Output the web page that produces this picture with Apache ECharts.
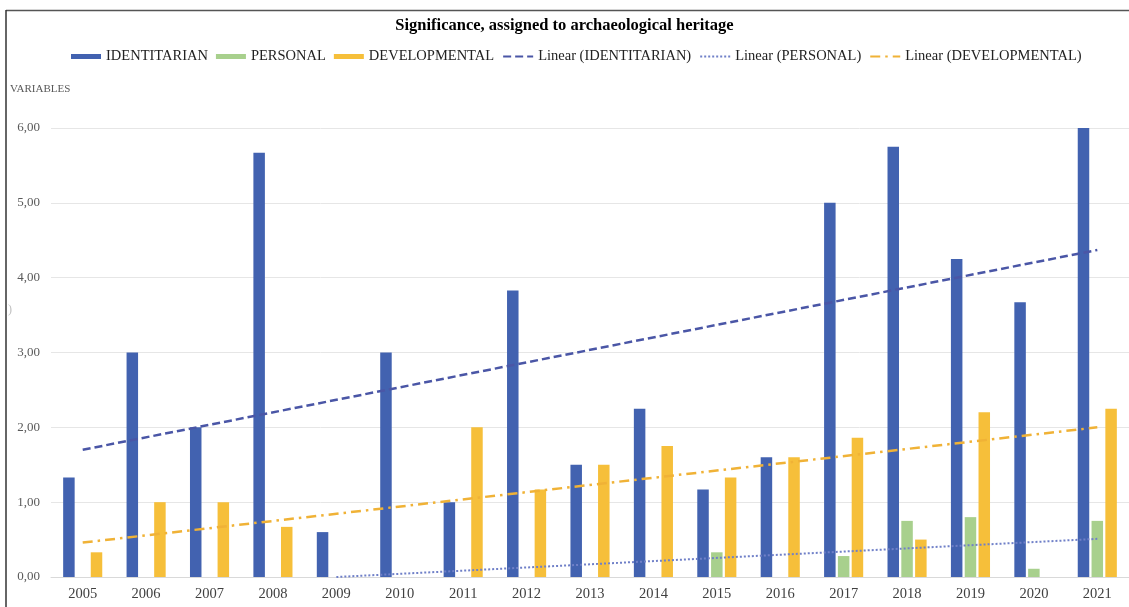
<!DOCTYPE html>
<html>
<head>
<meta charset="utf-8">
<script src="https://cdn.jsdelivr.net/npm/echarts@6/dist/echarts.min.js"></script>
<style>
  html, body { margin: 0; padding: 0; background: #fff; }
  #chart { width: 1129px; height: 607px; }
</style>
</head>
<body>
<div id="chart"></div>
<script>
// Survey years
const years = ['2005','2006','2007','2008','2009','2010','2011','2012','2013',
               '2014','2015','2016','2017','2018','2019','2020','2021'];

// Mean significance scores per category
const identitarian  = [1.33, 3.00, 2.00, 5.67, 0.60, 3.00, 1.00, 3.83, 1.50,
                       2.25, 1.17, 1.60, 5.00, 5.75, 4.25, 3.67, 6.00];
const personal      = [0, 0, 0, 0, 0, 0, 0, 0, 0,
                       0, 0.33, 0, 0.28, 0.75, 0.80, 0.11, 0.75];
const developmental = [0.33, 1.00, 1.00, 0.67, 0, 0, 2.00, 1.17, 1.50,
                       1.75, 1.33, 1.60, 1.86, 0.50, 2.20, 0, 2.25];

// Linear trend end points: [year, value]
const trendIdentitarian  = [['2005', 1.70], ['2021', 4.37]];
const trendPersonal      = [['2009', 0.00], ['2021', 0.51]];
const trendDevelopmental = [['2005', 0.46], ['2021', 2.00]];

// Y axis tick labels
const yTicks = [0, 1, 2, 3, 4, 5, 6];

const serif = '"Liberation Serif", "Times New Roman", serif';
const BLUE = '#4262b0', GREEN = '#a8d08d', YELLOW = '#f6bf3a';

const chart = echarts.init(document.getElementById('chart'), null, { renderer: 'canvas' });

const barCommon = {
  type: 'bar',
  barWidth: 11.5,
  barGap: '20%',
  barCategoryGap: '38%'
};

// line legend entries show only the stroke, no marker
const lineLegend = name => ({ name: name, itemStyle: { opacity: 0 } });

chart.setOption({
  animation: false,
  backgroundColor: '#ffffff',
  title: {
    text: 'Significance, assigned to archaeological heritage',
    left: 'center',
    top: 12,
    textStyle: { fontFamily: serif, fontSize: 16.5, fontWeight: 'bold', color: '#000' }
  },
  legend: {
    top: 44,
    left: 66,
    itemWidth: 30,
    itemHeight: 5,
    itemGap: 8,
    textStyle: { fontFamily: serif, fontSize: 14.5, color: '#222' },
    data: [
      { name: 'IDENTITARIAN', icon: 'rect' },
      { name: 'PERSONAL', icon: 'rect' },
      { name: 'DEVELOPMENTAL', icon: 'rect' },
      lineLegend('Linear (IDENTITARIAN)'),
      lineLegend('Linear (PERSONAL)'),
      lineLegend('Linear (DEVELOPMENTAL)')
    ]
  },
  grid: { left: 51, top: 128, width: 1081, height: 449, containLabel: false },
  xAxis: {
    type: 'category',
    data: years,
    axisLine: { show: true, lineStyle: { color: '#d9d9d9', width: 1 } },
    axisTick: { show: false },
    axisLabel: { fontFamily: serif, fontSize: 14.5, color: '#404040', margin: 10 },
    splitLine: { show: false }
  },
  yAxis: {
    type: 'value',
    min: yTicks[0],
    max: yTicks[yTicks.length - 1],
    interval: 1,
    name: 'VARIABLES',
    nameLocation: 'end',
    nameGap: 0,
    nameTextStyle: { fontFamily: serif, fontSize: 11, color: '#595959', align: 'left',
                     padding: [0, 0, 33, -41] },
    axisLine: { show: false },
    axisTick: { show: false },
    axisLabel: {
      fontFamily: serif, fontSize: 13, color: '#595959', margin: 11,
      formatter: v => v.toFixed(2).replace('.', ',')
    },
    splitLine: { lineStyle: { color: '#e6e6e6', width: 1 } }
  },
  graphic: [
    // frame edges
    { type: 'line', shape: { x1: 6, y1: 10.5, x2: 1129, y2: 10.5 },
      style: { stroke: '#555', lineWidth: 1.5 }, silent: true },
    { type: 'line', shape: { x1: 6, y1: 10, x2: 6, y2: 607 },
      style: { stroke: '#333', lineWidth: 1.5 }, silent: true },
    { type: 'text', left: 8, top: 304,
      style: { text: ')', fill: '#c0c0c0', font: '12px ' + serif }, silent: true }
  ],
  series: [
    Object.assign({ name: 'IDENTITARIAN', data: identitarian, itemStyle: { color: BLUE } }, barCommon),
    Object.assign({ name: 'PERSONAL', data: personal, itemStyle: { color: GREEN } }, barCommon),
    Object.assign({ name: 'DEVELOPMENTAL', data: developmental, itemStyle: { color: YELLOW } }, barCommon),
    {
      name: 'Linear (IDENTITARIAN)', type: 'line', data: trendIdentitarian,
      symbol: 'none', z: 5, itemStyle: { color: '#4a56a6' },
      lineStyle: { color: '#4a56a6', width: 2.5, type: [8, 4] }
    },
    {
      name: 'Linear (PERSONAL)', type: 'line', data: trendPersonal,
      symbol: 'none', z: 5, itemStyle: { color: '#7080c8' },
      lineStyle: { color: '#7080c8', width: 2, type: [2, 2] }
    },
    {
      name: 'Linear (DEVELOPMENTAL)', type: 'line', data: trendDevelopmental,
      symbol: 'none', z: 5, itemStyle: { color: '#f0b236' },
      lineStyle: { color: '#f0b236', width: 2.5, type: [10, 5, 2.5, 5] }
    }
  ]
});
</script>
</body>
</html>
